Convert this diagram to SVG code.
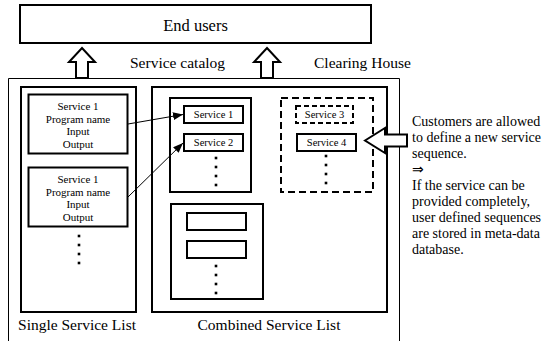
<svg xmlns="http://www.w3.org/2000/svg" width="545" height="341" viewBox="0 0 545 341">
<style>
text{font-family:"Liberation Serif","Times New Roman",serif;fill:#000}
.c{text-anchor:middle}
.b2{fill:#fff;stroke:#000;stroke-width:2}
.b1{fill:none;stroke:#000;stroke-width:1}
.hol{fill:#fff;stroke:#000;stroke-width:2;stroke-linejoin:miter}
.dash{fill:none;stroke:#000;stroke-width:2;stroke-dasharray:7 4}
.dash2{fill:#fff;stroke:#000;stroke-width:2;stroke-dasharray:5 3}
.dot{fill:#000}
.f11{font-size:11px}
.f10{font-size:10.5px}
.f15{font-size:15.5px}
.f14{font-size:14px}
.link{stroke:#000;stroke-width:1;fill:none}
</style>
<defs>
<marker id="ah" viewBox="0 0 10 8" refX="10" refY="4" markerWidth="10" markerHeight="8" markerUnits="userSpaceOnUse" orient="auto">
<path d="M0,0 L10,4 L0,8 z" fill="#000"/>
</marker>
<g id="dots4">
<rect x="-1.3" y="-1.3" width="2.6" height="2.6"/>
<rect x="-1.3" y="7.7" width="2.6" height="2.6"/>
<rect x="-1.3" y="16.7" width="2.6" height="2.6"/>
<rect x="-1.3" y="25.7" width="2.6" height="2.6"/>
</g>
</defs>

<g id="end-users">
<rect class="b2" x="20" y="5" width="351" height="38"/>
<text class="c" x="195.5" y="31" font-size="16.5">End users</text>
</g>

<g id="clearing-house">
<path class="b1" d="M8.5,345 V78.5 H399.5 V345"/>
<text x="314" y="68" class="f15">Clearing House</text>
</g>

<g id="service-catalog-label">
<text x="130" y="68" class="f15">Service catalog</text>
</g>

<g id="up-arrow-1">
<path class="hol" d="M82,48 L95,62 L88,62 L88,78 L76,78 L76,62 L69,62 Z"/>
</g>
<g id="up-arrow-2">
<path class="hol" d="M267,48 L280,62 L273,62 L273,78 L261,78 L261,62 L254,62 Z"/>
</g>

<g id="single-service-list">
<rect class="b2" x="21" y="87" width="115" height="225"/>
<text class="c f15" x="77" y="330">Single Service List</text>
<g class="dot"><use href="#dots4" x="79" y="236"/></g>
</g>

<g id="single-box-1">
<rect class="b2" x="28.5" y="94.5" width="99" height="59"/>
<text class="c f11" x="78" y="110">Service 1</text>
<text class="c f11" x="78" y="122.5">Program name</text>
<text class="c f11" x="78" y="135">Input</text>
<text class="c f11" x="78" y="147.5">Output</text>
</g>

<g id="single-box-2">
<rect class="b2" x="28.5" y="167.5" width="99" height="59"/>
<text class="c f11" x="78" y="183">Service 1</text>
<text class="c f11" x="78" y="195.5">Program name</text>
<text class="c f11" x="78" y="208">Input</text>
<text class="c f11" x="78" y="220.5">Output</text>
</g>

<g id="combined-service-list">
<rect class="b2" x="152" y="87" width="235" height="225"/>
<text class="c f15" x="269" y="330">Combined Service List</text>
</g>

<g id="combined-group-a">
<rect class="b2" x="170" y="98" width="81" height="94"/>
<g class="dot"><use href="#dots4" x="216" y="158"/></g>
</g>
<g id="combined-service-1">
<rect class="b2" x="184" y="106" width="59" height="17"/>
<text class="c f10" x="213.5" y="118">Service 1</text>
</g>
<g id="combined-service-2">
<rect class="b2" x="184" y="134" width="59" height="17"/>
<text class="c f10" x="213.5" y="146">Service 2</text>
</g>

<g id="combined-group-b">
<rect class="b2" x="171" y="204" width="92" height="95"/>
<rect class="b2" x="187" y="213" width="59" height="17"/>
<rect class="b2" x="187" y="241" width="59" height="17"/>
<g class="dot"><use href="#dots4" x="216" y="266"/></g>
</g>

<g id="user-defined-group">
<rect class="dash" x="281" y="98" width="92" height="94"/>
<g class="dot"><use href="#dots4" x="326" y="156"/></g>
</g>
<g id="combined-service-3">
<rect class="dash2" x="296" y="106" width="57" height="17"/>
<text class="c f10" x="324.5" y="118">Service 3</text>
</g>
<g id="combined-service-4">
<rect class="b2" x="297" y="134" width="59" height="17"/>
<text class="c f10" x="326.5" y="146">Service 4</text>
</g>

<g id="left-arrow">
<path class="hol" d="M365,140.5 L385,128 L385,134.5 L407,134.5 L407,146.5 L385,146.5 L385,153 Z"/>
</g>

<g id="note">
<text class="f14" x="412" y="126">Customers are allowed</text>
<text class="f14" x="412" y="142">to define a new service</text>
<text class="f14" x="412" y="158">sequence.</text>
<text class="f14" x="412" y="174">⇒</text>
<text class="f14" x="412" y="190">If the service can be</text>
<text class="f14" x="412" y="206">provided completely,</text>
<text class="f14" x="412" y="222">user defined sequences</text>
<text class="f14" x="412" y="238">are stored in meta-data</text>
<text class="f14" x="412" y="254">database.</text>
</g>

<g id="connectors">
<line class="link" x1="128" y1="124" x2="183" y2="114.5" marker-end="url(#ah)"/>
<line class="link" x1="128" y1="197" x2="183" y2="143" marker-end="url(#ah)"/>
</g>
</svg>
